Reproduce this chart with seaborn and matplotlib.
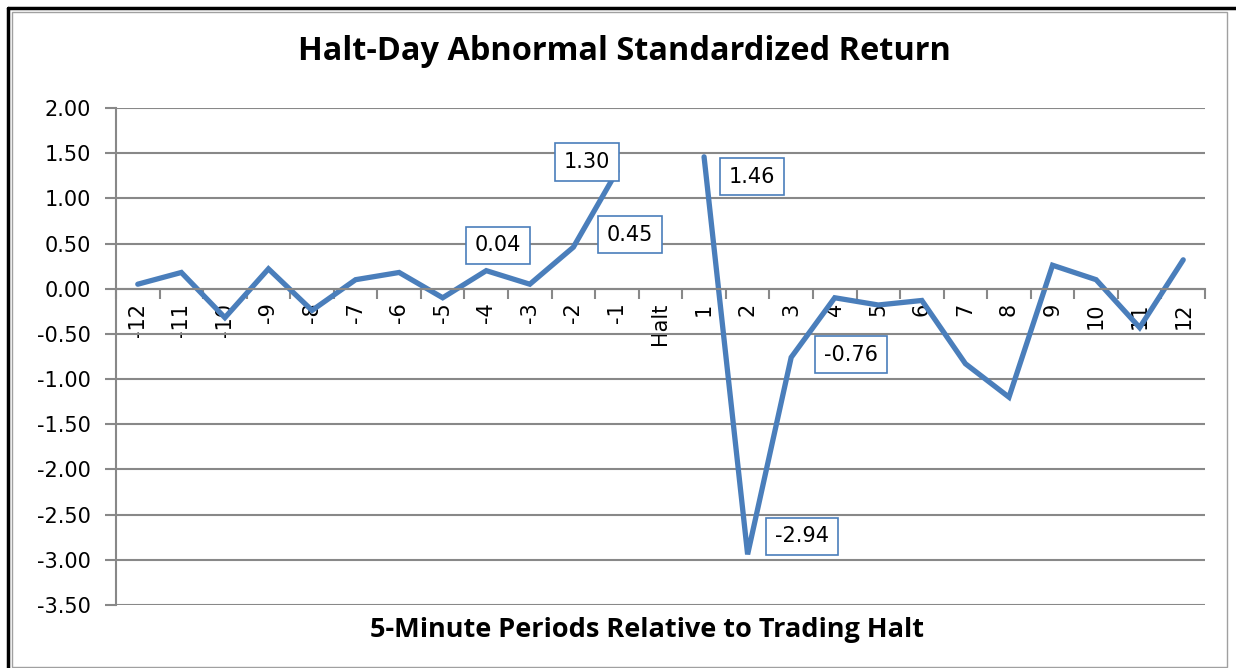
import numpy as np
import pandas as pd
import matplotlib
matplotlib.use("Agg")
import matplotlib.pyplot as plt
from matplotlib.lines import Line2D
import seaborn as sns

# categories on the x axis (5-minute periods around the halt)
periods = ['-12', '-11', '-10', '-9', '-8', '-7', '-6', '-5', '-4', '-3', '-2', '-1',
           'Halt', '1', '2', '3', '4', '5', '6', '7', '8', '9', '10', '11', '12']
# abnormal standardized return, no value during the halt itself
returns = [0.05, 0.18, -0.32, 0.22, -0.24, 0.10, 0.18, -0.10, 0.20, 0.05, 0.46, 1.30,
           np.nan, 1.46, -2.94, -0.76, -0.10, -0.18, -0.13, -0.83, -1.20, 0.26, 0.10, -0.43, 0.32]
# data labels shown in boxes: text, x position (category index), y position
label_text = ['1.30', '0.45', '0.04', '1.46', '-0.76', '-2.94']
label_x = [10.31, 11.30, 8.27, 14.10, 16.37, 15.25]
label_y = [1.40, 0.60, 0.48, 1.24, -0.73, -2.74]

line_color = '#4a7ebb'
grid_color = '#888888'

df = pd.DataFrame({'pos': np.arange(len(periods)), 'period': periods, 'ret': returns})
halt_idx = periods.index('Halt')
df['segment'] = np.where(df['pos'] < halt_idx, 'pre', 'post')
df = df.dropna()

sns.set_theme(style='white')
plt.rcParams['font.family'] = ['DejaVu Sans']
plt.rcParams['text.color'] = 'black'
plt.rcParams['xtick.labelcolor'] = 'black'
plt.rcParams['ytick.labelcolor'] = 'black'

fig = plt.figure(figsize=(12.36, 6.68), dpi=100)
ax = fig.add_axes([116 / 1236, 1 - 605 / 668, (1205 - 116) / 1236, (605 - 108) / 668])

sns.lineplot(data=df, x='pos', y='ret', units='segment', estimator=None,
             color=line_color, linewidth=3.8, ax=ax, sort=False)
for line in ax.get_lines():
    line.set_solid_capstyle('round')
    line.set_solid_joinstyle('miter')

ax.set_xlim(-0.5, len(periods) - 0.5)
ax.set_ylim(-3.5, 2.0)
ax.yaxis.grid(True, color=grid_color, linewidth=1.5)
ax.set_axisbelow(True)

ax.tick_params(axis='x', which='major', length=0, pad=10, labelsize=15, labelrotation=90,
               labelcolor='black')
ax.tick_params(axis='x', which='minor', length=7, width=1.5, color=grid_color,
               direction='out', bottom=True)
ax.tick_params(axis='y', which='major', length=8, width=1.5, color=grid_color,
               direction='out', left=True, pad=10, labelsize=15, labelcolor='black')

yt = np.arange(-3.5, 2.01, 0.5)
ax.set_yticks(yt)
ax.set_yticklabels([f'{v:.2f}' for v in yt])
ax.set_xticks(np.arange(len(periods)))
ax.set_xticklabels(periods, rotation=90, fontsize=15, va='top', ha='center', color='black')
ax.set_xticks(np.arange(-0.5, len(periods)), minor=True)

for side in ['top', 'right']:
    ax.spines[side].set_visible(False)
ax.spines['bottom'].set_position(('data', 0))
ax.spines['bottom'].set_color(grid_color)
ax.spines['bottom'].set_linewidth(1.5)
ax.spines['left'].set_color(grid_color)
ax.spines['left'].set_linewidth(1.5)

ax.set_xlabel('')
ax.set_ylabel('')

for txt, x, y in zip(label_text, label_x, label_y):
    ax.text(x, y, txt, fontsize=15, ha='center', va='center', color='black',
            bbox=dict(boxstyle='square,pad=0.42', facecolor='white',
                      edgecolor=line_color, linewidth=1.2), zorder=5)

fig.text(624 / 1236, 1 - 52 / 668, 'Halt-Day Abnormal Standardized Return', color='black',
         ha='center', va='center', fontsize=23.4, fontweight='bold', family='Open Sans')
fig.text(647 / 1236, 1 - 630 / 668, '5-Minute Periods Relative to Trading Halt', color='black',
         ha='center', va='center', fontsize=19.5, fontweight='bold', family='Open Sans')

# chart frame: heavy black top/left, thin grey inner border
W, H = 1236, 668
fig.add_artist(Line2D([7.5 / W, 7.5 / W], [0, 1 - 7.5 / H], color='black', linewidth=2.5))
fig.add_artist(Line2D([7.5 / W, 1], [1 - 7.5 / H, 1 - 7.5 / H], color='black', linewidth=2.5))
fig.add_artist(plt.Rectangle((11.5 / W, 1.5 / H), (1227 - 11.5) / W, (668 - 11.5 - 1.5) / H,
                             transform=fig.transFigure, fill=False,
                             edgecolor='#a0a0a0', linewidth=1.0))

fig.savefig('out.png', dpi=100)
